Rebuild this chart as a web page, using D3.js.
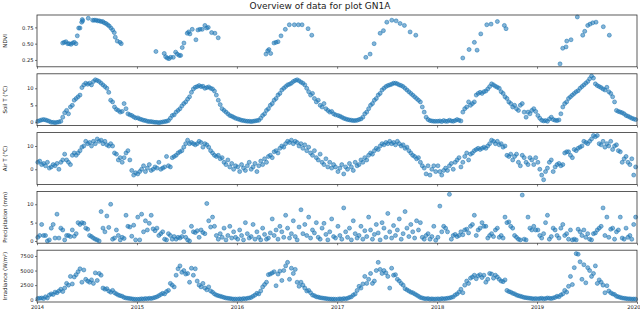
<!DOCTYPE html>
<html><head><meta charset="utf-8">
<script src="https://cdn.jsdelivr.net/npm/d3@7"></script>
<style>
body{margin:0;background:#fff}
svg{display:block}
text{font-family:"DejaVu Sans",sans-serif;fill:#222}
</style>
</head><body>
<svg id="chart" width="640" height="313"></svg>
<script>
const chartTitle = "Overview of data for plot GN1A";
const xTickYears = [2014, 2015, 2016, 2017, 2018, 2019, 2020];
const dataYears = [2014, 2015, 2016, 2017, 2018, 2019];

// NDVI observations: decimal-year dates and values
const ndviDates = [
2014.257,2014.273,2014.29,2014.307,2014.323,2014.34,2014.357,2014.373,2014.39,2014.403,2014.417,2014.43,2014.447,2014.453,2014.457,2014.513,2014.557,2014.573,2014.59,2014.607,2014.623,2014.64,2014.657,2014.673,2014.69,2014.707,2014.723,2014.74,2014.757,2014.773,2014.783,2014.803,2014.83,2014.843,
2015.19,2015.273,2015.287,2015.303,2015.32,2015.337,2015.363,2015.387,2015.403,2015.423,2015.437,2015.453,2015.47,2015.503,2015.517,2015.53,2015.553,2015.59,2015.61,2015.63,2015.653,2015.68,2015.697,2015.713,2015.747,2015.78,2015.813,
2016.29,2016.307,2016.32,2016.337,2016.37,2016.39,2016.41,2016.44,2016.483,2016.523,2016.573,2016.613,2016.65,2016.71,2016.747,
2017.287,2017.33,2017.37,2017.43,2017.463,2017.497,2017.547,2017.59,2017.63,2017.673,2017.73,2017.787,
2018.257,2018.32,2018.373,2018.4,2018.437,2018.497,2018.54,2018.603,2018.673,2018.69,
2019.23,2019.257,2019.29,2019.297,2019.34,2019.403,2019.457,2019.477,2019.507,2019.53,2019.557,2019.59,2019.663,2019.723];
const ndviValues = [
0.51,0.52,0.53,0.50,0.50,0.49,0.51,0.52,0.50,0.62,0.74,0.74,0.83,0.87,0.85,0.89,0.86,0.86,0.86,0.85,0.85,0.84,0.84,0.82,0.81,0.79,0.77,0.74,0.71,0.67,0.60,0.54,0.52,0.50,
0.38,0.35,0.30,0.28,0.27,0.29,0.29,0.37,0.34,0.32,0.32,0.44,0.51,0.66,0.68,0.65,0.72,0.56,0.71,0.72,0.72,0.78,0.74,0.75,0.67,0.66,0.59,
0.34,0.39,0.41,0.35,0.51,0.52,0.53,0.62,0.72,0.79,0.79,0.79,0.79,0.73,0.63,
0.29,0.34,0.50,0.66,0.70,0.83,0.86,0.85,0.81,0.78,0.68,0.63,
0.28,0.41,0.52,0.40,0.65,0.79,0.80,0.84,0.78,0.73,
0.19,0.43,0.45,0.54,0.56,0.91,0.63,0.69,0.78,0.80,0.82,0.83,0.76,0.63];

// Weekly series (52 weeks per year, 2014-2019)
const soilT = [
0.3,0.5,0.7,0.8,0.7,0.5,0.3,0.0,0.0,-0.1,0.0,0.1,0.3,1.5,2.8,3.5,2.5,4.5,5.0,6.5,7.0,7.5,8.0,10.2,11.0,11.5,11.2,11.5,11.0,12.0,12.5,12.3,12.0,11.5,11.0,10.5,10.0,8.8,6.5,6.0,4.5,3.8,3.5,3.0,3.2,5.5,4.0,2.5,2.2,2.0,1.6,1.3,
1.3,1.0,0.8,0.6,0.5,0.3,0.2,0.2,0.1,0.0,0.0,-0.1,0.0,0.1,0.2,0.3,0.5,1.2,2.0,2.2,3.0,3.5,4.0,4.8,5.5,6.0,6.8,7.5,8.8,9.8,10.3,10.5,10.8,10.5,10.6,10.0,10.2,10.4,10.0,9.8,9.2,8.0,6.5,5.2,4.0,3.5,3.0,2.5,2.0,1.8,1.5,1.2,
1.0,0.8,0.6,0.5,0.4,0.3,0.3,0.2,0.3,0.4,0.5,0.6,1.2,2.0,2.5,3.5,4.0,5.0,5.5,6.5,7.0,8.0,8.5,9.5,10.0,10.5,11.0,11.2,11.5,12.0,12.3,12.5,12.2,11.8,11.5,11.0,10.0,9.0,8.0,8.5,7.0,6.0,6.5,5.0,4.5,5.5,4.0,3.5,3.0,3.2,2.5,2.2,
2.0,1.8,1.5,1.2,1.0,0.8,0.7,0.6,0.5,0.5,0.6,0.8,1.0,1.5,2.5,3.0,4.0,5.0,5.5,6.5,7.0,8.0,8.5,9.5,10.0,10.5,10.8,11.0,11.2,11.5,11.5,11.3,11.0,10.8,10.5,10.0,9.5,9.0,8.5,8.0,7.5,7.0,6.5,6.0,4.5,3.0,1.5,0.8,0.5,0.4,0.3,0.3,
0.3,0.4,0.2,0.5,0.3,0.3,0.6,0.4,0.3,0.5,0.8,0.6,0.4,3.0,4.0,4.5,6.0,5.0,5.5,6.0,8.0,8.5,8.8,8.5,9.0,9.2,9.8,10.5,11.3,11.0,10.6,10.3,10.0,9.0,8.5,7.5,7.0,6.0,5.5,4.5,5.0,4.0,3.5,5.0,5.5,3.0,1.5,3.0,2.5,3.5,4.0,3.2,
2.0,1.2,0.6,0.4,0.5,0.3,1.0,1.5,0.8,0.6,0.5,0.7,2.5,4.5,5.5,6.0,7.0,7.5,8.0,8.5,9.0,9.3,10.0,10.5,11.0,11.5,12.0,12.8,13.6,13.0,11.3,10.8,10.5,10.2,9.8,9.5,10.3,9.0,8.5,7.5,6.0,3.5,3.2,3.0,2.8,2.5,2.0,1.8,1.5,1.2,1.0,0.8];

const airT = [
3,3.5,2,2.5,1.5,3,0.5,1,2,1.5,2.5,0,3,4,6.5,4,3,2,6,7,6,7,8,9.5,10,12,11,11.5,10,12,11,13,12,12.5,11,12,10.5,10,11,10,7,6.5,4,5,3,5,7,8,4,-0.5,-2.5,-1.5,
-2,-1,0,1.5,-1,0.5,2,-0.5,0,1,0.5,3,0,0.5,1,5.5,1.5,1,5,5.5,6,7,7.5,8,9.5,11,12.5,11,11.5,11,10.5,11,12,11.5,9.5,11,10.5,9.5,8,7,6,5.5,6,4.5,5,3,2,4,1,2.5,0,1.5,
1,-1,2,0.5,-0.5,1.5,3,0,1,2.5,-1,1.5,3.5,2,4.5,3,5.5,6,5,7.5,8,7,9,10,9.5,11,12,11.5,12.5,11,12,11.5,10,11,9,10.5,8,9.5,7,6,8,5,4,6.5,3,2,4.5,1,3,0.5,2,1,
-1,0.5,2,-2,1,0,2.5,1,-0.5,3,1.5,2,4,3,5,4,6,7,6.5,8,9,8.5,10,11,10.5,11.5,11,12,11,11.5,10.5,12,11,10,10.5,9,9.5,8,7,6,5.5,4.5,5,3,1.5,0.5,-2,1.5,-2.5,0,1.5,-1,
1.5,-1,-2.5,-0.5,0.5,-0.5,1.5,2.5,0,3,4,5,1,3,5.5,7,4,6.5,7,8,8.5,9,8.5,9,9.5,9,10,11,12.5,12,11,12,10.5,11,9.5,10,6,5.5,6.5,4,5.5,6.5,3,1.5,6,5,3,2,5,4,2,5,
3,0,-2.5,-4.5,-1,0.5,3,4,-1,1,2,2.5,1.5,2,7,7.5,7.5,6,5,8.5,8,9,9.5,10,12,11.5,11,12,13,14.5,14,14.5,11,10.5,12,9.5,11,10,12,8.5,10,10.5,8,7.5,3,4.5,5.5,3,2,4.5,-2.5,1];

const precip = [
1.0,1.5,4.5,1.5,1.5,0.0,0.3,3.5,4.5,0.8,7.3,0.8,3.5,3.0,0.3,1.5,1.5,1.2,3.0,1.3,2.0,5.0,4.5,5.0,4.8,3.5,3.2,1.5,1.2,0.8,0.5,0.3,0.0,8.0,3.5,2.5,6.8,3.7,10.0,0.5,0.8,3.0,1.5,0.3,1.0,0.7,7.0,4.0,3.8,1.3,4.3,0.3,
6.5,0.3,7.3,2.5,5.5,3.0,4.8,7.0,3.3,2.8,3.5,1.5,2.0,2.5,0.5,0.3,2.0,1.5,0.5,1.2,0.5,1.0,0.8,1.2,2.5,1.0,0.3,0.0,4.0,2.5,2.3,2.8,1.0,3.0,2.3,2.0,10.2,5.5,3.8,6.5,4.0,1.5,0.5,2.0,1.0,3.5,0.3,1.5,4.0,0.8,2.5,1.0,
0.5,3.0,1.5,0.3,5.0,2.0,0.8,1.2,4.5,0.5,2.5,1.0,0.3,3.5,1.8,0.5,0.8,2.2,6.0,1.5,3.0,0.5,4.0,2.5,1.0,7.0,3.5,0.8,2.0,5.5,1.2,0.3,3.8,8.5,2.0,4.5,1.5,6.5,0.8,3.0,2.2,5.0,1.0,0.5,3.5,4.8,1.8,0.3,2.5,6.0,1.2,0.8,
4.0,1.5,0.5,9.0,2.5,1.0,3.5,0.3,5.5,2.0,0.8,1.5,4.0,0.5,2.8,1.2,6.5,3.0,0.5,1.8,4.5,2.2,0.3,5.0,3.5,1.0,7.5,2.5,0.8,4.2,1.5,3.0,6.0,0.5,2.0,8.0,3.5,1.2,4.5,2.5,0.8,5.5,3.0,5.0,1.0,0.5,1.5,2.0,0.5,1.2,4.0,0.2,
1.0,9.5,2.5,4.0,3.5,2.5,12.7,0.5,1.5,1.8,1.2,1.5,2.5,1.7,3.0,3.2,2.2,4.0,4.5,7.0,1.5,3.0,3.5,5.0,4.0,4.0,0.8,1.5,2.0,1.2,3.0,3.5,1.0,1.5,0.8,6.5,5.0,5.2,4.0,3.5,1.5,1.0,0.5,0.3,12.5,0.5,0.3,6.5,3.5,3.0,4.0,3.0,
3.0,1.5,0.8,2.0,5.0,7.0,0.5,1.2,3.5,3.0,1.5,0.8,3.5,4.5,1.5,2.0,0.5,3.0,0.3,0.5,0.3,3.2,2.5,1.5,3.0,1.0,2.0,0.5,0.3,2.0,2.2,3.0,3.5,4.0,9.0,1.5,6.5,1.0,3.2,3.5,0.5,2.5,3.0,6.5,0.8,0.5,3.5,1.0,1.5,0.5,4.5,6.5];

const irradiance = [
200,250,300,200,500,300,800,1000,900,1300,1200,1500,1800,1400,2000,2800,2500,4000,2700,3900,4300,4800,5300,3000,5100,3500,3200,3000,3400,2800,4600,3300,4500,4200,2000,1800,1900,1500,1300,1600,1200,1000,800,700,600,400,300,250,200,150,100,80,
80,100,150,120,200,150,250,200,300,400,500,700,900,1100,1000,1400,1600,2800,2500,2200,4200,5300,5800,4700,5000,4400,4500,3000,5400,4200,5300,3200,2500,2200,2800,2000,1700,2200,1500,1300,1000,800,700,600,500,400,300,250,200,150,100,120,
100,150,100,200,150,250,300,400,600,800,1100,1000,1500,2200,2600,3000,4300,4400,4600,4800,2400,4400,4900,3300,5000,5800,6400,3500,5400,4500,5200,3000,2300,3000,2500,2000,1500,1600,1200,800,700,500,450,350,300,250,200,150,120,100,100,80,
100,150,100,200,150,250,400,500,800,1000,1600,2300,2000,2700,4000,2800,3500,4500,2800,3200,5000,6400,5200,4500,5000,4600,4000,2000,5400,4200,4300,3500,3200,2800,2500,1900,1700,1500,1300,1200,1000,800,600,400,300,200,150,200,100,150,100,120,
150,100,200,150,200,250,300,400,500,800,1000,1300,1800,1200,2500,3200,2800,3700,3900,4200,3600,4100,4300,3800,4200,3000,3500,4500,4400,3700,4200,3900,3500,3200,3100,3400,1600,1400,1300,1100,1000,800,700,600,500,400,350,300,250,200,150,200,
150,200,250,150,200,300,250,200,300,400,600,500,800,1000,1600,1300,2300,4000,2600,5500,7900,7800,6500,3500,6000,2900,5500,5000,4000,4500,5800,2800,3400,3000,2500,1200,2400,1500,1200,1000,900,600,500,400,300,250,200,150,150,100,120,100];

// y-axis tick values per panel
const ndviTicks = [0.25, 0.5, 0.75];
const soilTicks = [0, 5, 10];
const airTicks = [0, 10];
const precipTicks = [0, 5, 10];
const irrTicks = [0, 2500, 5000, 7500];

// ---------- helpers ----------
function fromDecimalYear(v) {
  const y = Math.floor(v);
  const a = new Date(y, 0, 1), b = new Date(y + 1, 0, 1);
  return new Date(+a + (v - y) * (b - a));
}
const weeklyDates = [];
dataYears.forEach(y => { for (let k = 0; k < 52; k++) weeklyDates.push(new Date(y, 0, 4 + 7 * k)); });

const panels = [
  {label: "NDVI", dates: ndviDates.map(fromDecimalYear), values: ndviValues, domain: [0.145, 0.94], ticks: ndviTicks, fmt: d3.format(".2f")},
  {label: "Soil T (°C)", dates: weeklyDates, values: soilT, domain: [-0.97, 14.26], ticks: soilTicks, fmt: d3.format("d")},
  {label: "Air T (°C)", dates: weeklyDates, values: airT, domain: [-6.5, 15.75], ticks: airTicks, fmt: d3.format("d")},
  {label: "Precipitation (mm)", dates: weeklyDates, values: precip, domain: [-0.6, 13.5], ticks: precipTicks, fmt: d3.format("d")},
  {label: "Irradiance (W/m²)", dates: weeklyDates, values: irradiance, domain: [-390, 8486], ticks: irrTicks, fmt: d3.format("d")}
];

// ---------- layout ----------
const svg = d3.select("#chart");
const left = 37, right = 637, top0 = 15, bottom = 302, gap = 7;
const ph = (bottom - top0 - gap * (panels.length - 1)) / panels.length;
const x = d3.scaleTime().domain([new Date(2014, 0, 1), new Date(2020, 0, 1)]).range([left, right]);
const yearDates = xTickYears.map(y => new Date(y, 0, 1));

svg.append("text").attr("x", 320).attr("y", 9).attr("text-anchor", "middle")
  .attr("font-size", 9).text(chartTitle);

panels.forEach((p, i) => {
  const t = top0 + i * (ph + gap);
  const y = d3.scaleLinear().domain(p.domain).range([t + ph, t]);
  const g = svg.append("g");

  // points
  g.append("g").selectAll("circle").data(p.values).join("circle")
    .attr("cx", (d, j) => x(p.dates[j])).attr("cy", d => y(d)).attr("r", 2.0)
    .attr("fill", "#1f77b4").attr("fill-opacity", 0.55)
    .attr("stroke", "#1f77b4").attr("stroke-opacity", 0.9).attr("stroke-width", 0.6);

  // y axis
  const ya = g.append("g").attr("transform", `translate(${left},0)`)
    .call(d3.axisLeft(y).tickValues(p.ticks).tickFormat(p.fmt).tickSize(2).tickPadding(1.5));
  ya.select(".domain").remove();
  ya.selectAll("line").attr("stroke", "#222").attr("stroke-width", 0.6);
  ya.selectAll("text").attr("font-size", 5.2).attr("fill", "#222").attr("font-family", "DejaVu Sans");

  // x axis
  const last = i === panels.length - 1;
  const xa = g.append("g").attr("transform", `translate(0,${t + ph})`)
    .call(d3.axisBottom(x).tickValues(yearDates).tickFormat(last ? d3.timeFormat("%Y") : () => "").tickSize(2).tickPadding(1.5));
  xa.select(".domain").remove();
  xa.selectAll("line").attr("stroke", "#222").attr("stroke-width", 0.6);
  xa.selectAll("text").attr("font-size", 5.2).attr("fill", "#222").attr("font-family", "DejaVu Sans");
  if (last) {
    // keep the right-most year label inside the picture
    xa.selectAll("text").filter(d => +d === +yearDates[yearDates.length - 1])
      .attr("text-anchor", "end").attr("dx", 3);
  }

  // frame
  g.append("rect").attr("x", left).attr("y", t).attr("width", right - left).attr("height", ph)
    .attr("fill", "none").attr("stroke", "#333").attr("stroke-width", 0.8);

  // y label
  g.append("text").attr("transform", `translate(7,${t + ph / 2}) rotate(-90)`)
    .attr("text-anchor", "middle").attr("font-size", 5.5).text(p.label);
});
</script>
</body></html>
